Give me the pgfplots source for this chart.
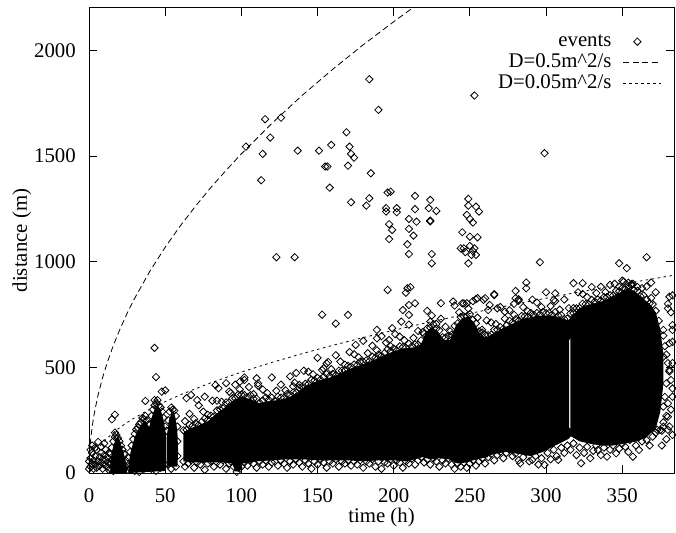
\documentclass[border=0pt]{standalone}
\usepackage{fontspec}
\setmainfont{Liberation Serif}
\usepackage{pgfplots}
\pgfplotsset{compat=1.18}

\newcommand{\lbl}{\fontsize{20.8}{24}\selectfont}
\pgfplotsset{
    longline legend/.style={legend image code/.code={\draw[##1] (0pt,0pt) -- (38pt,0pt);}},
    markonly legend/.style={legend image code/.code={\draw[##1] plot coordinates {(14pt,0pt)};}},
}

\begin{document}
\begin{tikzpicture}
\useasboundingbox (-89pt,-59pt) rectangle (587pt,473pt);
\begin{axis}[
    scale only axis,
    width=585pt, height=465pt,
    xmin=0, xmax=384, ymin=0, ymax=2200,
    xtick={0,50,...,350}, ytick={0,500,...,2000},
    scaled ticks=false,
    tick align=inside, major tick length=8pt,
    axis line style={line width=1pt},
    every tick/.style={black, line width=0.8pt},
    tick label style={font=\lbl, /pgf/number format/assume math mode=true, /pgf/number format/1000 sep={}},
    xticklabel style={anchor=base, inner sep=0pt, yshift=-29.7pt},
    yticklabel style={anchor=east, inner sep=0pt, xshift=-13pt},
    label style={font=\lbl},
    xlabel={time (h)}, ylabel={distance (m)},
    xlabel style={at={(axis description cs:0.5,-0.1075)}, anchor=base, inner sep=0pt},
    ylabel style={at={(axis description cs:-0.106,0.5)}, anchor=base, inner sep=0pt},
    legend style={draw=none, fill=none, at={(rel axis cs:1,1)}, anchor=north east,
        xshift=-12pt, yshift=-23pt, inner sep=0pt, row sep=0pt, column sep=11pt,
        font=\lbl, nodes={inner sep=0.5pt, text height=14.5pt, text depth=5.5pt}},
    legend cell align=right, legend plot pos=right,
    longline legend,
]
% dense cores of the event cloud
\addplot[fill=black, draw=none, forget plot] coordinates {
    (14,0) (14,50) (15,100) (16.5,140) (18,165) (19.5,165) (21,135) (22.5,100) (24,60) (24.8,20) (24.8,0)};
\addplot[fill=black, draw=none, forget plot] coordinates {
    (26,0) (26,40) (27,90) (28.5,130) (30,170) (32,200) (34,225) (36,240) (38,235) (39.5,215) (41,260)
    (43,300) (45,320) (47,300) (49,250) (50.5,180) (50.5,10)};
\addplot[fill=black, draw=none, forget plot] coordinates {
    (51,30) (51,170) (52.5,250) (54.5,290) (56.5,270) (58,200) (58.5,100) (58,30)};
\addplot[fill=black, draw=none, forget plot] coordinates {
    (62,190) (66,210) (72,225) (78,245) (84,280) (90,315) (95,345) (100,360) (106,350) (112,330) (118,340)
    (124,345) (130,355) (136,375) (142,410) (148,430) (154,445) (160,455) (166,475) (172,495) (178,510)
    (184,525) (190,545) (196,565) (202,580) (208,590) (214,595) (218,610) (221,665) (225,690) (229,670)
    (233,630) (237,630) (241,700) (245,730) (249,740) (253,710) (257,650) (262,640)
    (262,75) (254,65) (248,50) (242,45) (236,65) (230,70) (224,65) (219,75) (214,65) (208,55) (200,60)
    (190,60) (180,55) (170,60) (160,60) (150,60) (140,65) (130,65) (120,60) (110,55) (101,45) (99,8)
    (96,8) (94,45) (88,50) (80,50) (70,50) (62,55)};
\addplot[fill=black, draw=none, forget plot] coordinates {
    (261,642) (268,670) (276,700) (285,730) (295,745) (305,745) (314.5,722) (316.5,735) (316.5,640)
    (315.2,630) (315.2,215) (316.5,205) (316.5,175) (314.5,160) (306,130) (298,100) (290,80) (282,90)
    (274,100) (266,90) (261,78)};
\addplot[fill=black, draw=none, forget plot] coordinates {
    (316,735) (322,780) (330,800) (338,815) (345,840) (350,860) (354,875) (358,860) (363,830) (368,800)
    (372,760) (375,680) (377,560) (377,420) (375,290) (372,210) (366,170) (360,150) (352,140) (344,130)
    (336,130) (328,140) (322,150) (316,175)};

% events
\addplot[only marks, mark=square, mark size=2.6pt, mark options={rotate=45, line width=0.8pt},
    markonly legend] coordinates {
    % far outliers
    (115.6,1674) (126,1681) (119,1587) (103,1544) (114,1510) (137,1525) (151,1525) (159,1552) (155,1450)
    (156.5,1450) (158,1350) (113,1385) (123,1021) (135,1021) (184,1863) (190,1718) (253,1786) (169,1612)
    (171,1544) (172,1510) (174,1492) (170,1454) (185,1418) (299,1513) (172,1281) (182,1265) (184,1300)
    (196,1327) (198,1331) (195,1253) (195,1237) (202,1253) (202,1234) (214,1311) (214,1248) (224,1292)
    (223,1253) (228,1240) (197,1177) (199,1150) (197,1107) (210,1202) (215,1189) (210,1155) (213,1123)
    (224,1194) (224,1190) (209,1082) (210,1036) (225,1036) (225,992) (249,1297) (249,1265) (248,1221)
    (254,1260) (256,1237) (250,1202) (252,1185) (245,1139) (250,1118) (255,1115) (244,1063) (246,1063)
    (250,1074) (253,1063) (251,1032) (254,1032) (249,992) (252,1050) (247,1045) (296,997) (348,992)
    (366,1021) (353,969) (350,910) (356,894) (369,901) (318,898) (324,898) (287,901) (287,874) (280,861)
    (280,827) (266,846) (260,827) (254,822) (248,803) (273,763) (268,779) (306,850) (305,819) (282,822)
    (279,800) (153,749) (162,707) (170,748) (136,473) (134,410) (157,525) (175,606) (189,677) (189,637)
    (199,685) (197,629) (196,866) (209,874) (211,879) (208,853) (206,771) (210,795) (214,803) (210,748)
    (205,716) (224,716) (231,803) (239,811) (245,803) (255,827) (259,819) (266,842) (263,795) (262,771)
    (64,354) (67,369) (71,345) (76,361) (83,416) (85,401) (92,385) (99,432) (102,440) (110,448) (111,424)
    (154,495)
    % early bursts
    (0,55) (1,30) (1,70) (2,45) (2,95) (3,20) (3,60) (4,80) (4,40) (5,110) (5,25) (6,147) (6,55) (7,75)
    (7,35) (8,95) (8,50) (9,20) (9,65) (10,85) (10,40) (11,110) (11,60) (12,30) (12,75) (13,50) (13,95)
    (14,20) (0,20) (1,110) (2,130) (4,120) (8,125) (10,140)
    (14,40) (14,90) (15,120) (15,60) (16,150) (17,191) (17,170) (18,180) (19,165) (20,150) (21,130)
    (22,110) (23,90) (24,60) (24,30) (25,15) (15,254) (17,276) (13,15) (16,10)
    (26,30) (26,70) (27,100) (28,130) (29,160) (30,185) (31,205) (32,215) (33,230) (34,240) (35,260)
    (36,255) (37,270) (38,250) (39,230) (27,20) (33,5) (30,10) (36,20)
    (39,180) (40,230) (41,270) (42,300) (43,320) (44,330) (45,345) (46,320) (47,310) (48,290) (49,260)
    (50,220) (41,20) (44,10) (47,25) (50,40) (37,341) (43,592) (44,454) (50,391) (47.7,385) (43,345)
    (51,200) (52,250) (53,290) (54,310) (55,300) (56,295) (57,270) (58,220) (58,150) (58,80) (57,30)
    (54,20) (52,40)
    % upper edge of the main cloud
    (62,202) (64,204) (66,228) (68,223) (70,235) (72,227) (74,242) (76,258) (78,251) (80,271) (82,268)
    (84,296) (86,301) (88,306) (90,334) (92,334) (94,352) (96,353) (98,371) (100,371) (102,369) (104,357)
    (106,368) (108,351) (110,352) (112,332) (114,343) (116,357) (118,346) (120,356) (122,343) (124,361)
    (126,357) (128,355) (130,374) (132,369) (134,381) (136,380) (138,404) (140,409) (142,422) (144,421)
    (146,441) (148,438) (150,450) (152,442) (154,455) (156,468) (158,458) (160,469) (162,462) (164,484)
    (166,484) (168,485) (170,507) (172,502) (174,513) (176,510) (178,527) (180,526) (182,532) (184,529)
    (186,550) (188,546) (190,560) (192,554) (194,568) (196,585) (198,576) (200,589) (202,580) (204,599)
    (206,596) (208,593) (210,611) (212,600) (214,608) (216,607) (218,627) (220,658) (222,684) (224,688)
    (226,703) (228,683) (230,675) (232,642) (234,640) (236,650) (238,654) (240,696) (242,708) (244,738)
    (246,741) (248,741) (250,752) (252,725) (254,708) (256,670) (258,665) (260,655) (262,652) (264,654)
    (266,678) (268,678) (270,690) (272,683) (274,698) (276,720) (278,713) (280,727) (282,720) (284,743)
    (286,741) (288,738) (290,757) (292,748) (294,757) (296,750) (298,762) (300,756) (302,757) (304,749)
    (306,761) (308,745) (310,747) (312,728) (314,731) (316,755) (318,756) (320,779) (322,780) (324,801)
    (326,799) (328,798) (330,819) (332,811) (334,821) (336,816) (338,832) (340,833) (342,841) (344,840)
    (346,862) (348,860) (350,875) (352,870) (354,885) (356,888) (358,866) (360,862) (362,836) (364,840)
    (366,821) (368,803) (370,799) (372,767) (374,720)
    (63,245) (66,280) (69,256) (72,320) (75,290) (78,275) (81,342) (84,342) (87,337) (90,425) (93,378)
    (96,418) (99,395) (102,452) (105,407) (108,373) (111,413) (114,395) (117,378) (120,452) (123,389)
    (126,418) (129,391) (132,457) (135,427) (138,417) (141,484) (144,479) (147,467) (150,545) (153,487)
    (156,518) (159,491) (162,557) (165,527) (168,512) (171,572) (174,562) (177,547) (180,625) (183,567)
    (186,602) (189,580) (192,647) (195,617) (198,600) (201,657) (204,645) (207,628) (210,702) (213,639)
    (216,672) (219,666) (222,767) (225,745) (228,705) (231,730) (234,692) (237,670) (240,792) (243,760)
    (246,802) (249,778) (252,813) (255,735) (258,678) (261,722) (264,712) (267,705) (270,785) (273,730)
    (276,770) (279,748) (282,815) (285,785) (288,765) (291,820) (294,806) (297,785) (300,855) (303,790)
    (306,813) (309,773) (312,821) (315,780) (318,780) (321,855) (324,847) (327,832) (330,880) (333,851)
    (336,881) (339,856) (342,890) (345,895) (348,882) (351,905) (354,900) (357,895) (360,880) (363,875)
    (366,882) (369,828) (372,855)
    % right edge
    (377,650) (378,600) (379,560) (380,520) (381,480) (382,440) (383,400) (378,360) (380,330) (382,300)
    (379,270) (377,240) (381,220) (376,200) (383,180) (383,520) (383,620) (383,700) (382,760) (380,800)
    (383,840) (381,834) (380,779) (383,677) (377,677) (381,614) (377,550) (381,487) (379,424) (383,361)
    (377,314) (380,266) (375,204) (376,130) (379,160)
    % lower edge of the main cloud
    (62,55) (63,30) (65,45) (67,60) (69,25) (71,50) (73,40) (75,65) (76,15) (78,45) (80,55) (82,30)
    (84,50) (86,40) (88,60) (90,20) (92,45) (93,55) (95,30) (97,5) (98,25) (100,30) (102,50) (104,35)
    (106,60) (108,45) (110,25) (112,55) (114,40) (116,60) (118,30) (120,50) (122,54) (124,35) (126,60)
    (128,45) (130,25) (132,55) (134,40) (136,65) (138,50) (140,30) (142,60) (144,45) (146,20) (148,55)
    (150,40) (152,65) (154,50) (156,25) (158,55) (160,45) (162,65) (164,30) (166,55) (168,45) (170,60)
    (172,35) (174,55) (176,40) (178,60) (180,25) (182,55) (184,45) (186,65) (188,30) (190,55) (192,20)
    (194,50) (196,45) (198,65) (200,35) (202,60) (204,50) (206,25) (208,55) (210,45) (212,70) (214,40)
    (216,60) (218,75) (219,110) (220,50) (222,65) (224,40) (226,70) (228,55) (230,30) (232,60) (234,45)
    (236,70) (238,40) (240,20) (242,45) (244,30) (246,50) (248,25) (250,45) (252,60) (254,35) (256,55)
    (258,70) (260,45) (262,75) (264,90) (266,60) (268,85) (270,100) (272,70) (274,95) (276,110) (278,80)
    (280,93) (282,60) (283,46) (285,75) (287,100) (289,55) (291,62) (293,80) (295,40) (297,70) (299,38)
    (301,95) (303,65) (305,110) (307,80) (308,62) (310,120) (312,95) (314,130) (316,110) (318,140)
    (320,85) (322,120) (323,46) (325,95) (327,124) (329,70) (331,105) (333,130) (334,109) (336,85)
    (338,120) (340,77) (342,110) (344,130) (346,93) (348,115) (350,140) (352,124) (354,100) (355,156)
    (357,77) (359,130) (361,109) (363,150) (366,156) (368,130) (370,172) (372,190) (373,204) (377,219)
    (380,204)};

\addplot[line width=0.8pt, dash pattern=on 6pt off 3.5pt] coordinates {
    (0,0) (0.25,75.5) (0.5,107) (1,151) (2,214) (3,262) (4,302) (6,370) (9,453) (12,523) (16,604)
    (20,675) (25,755) (30,827) (40,955) (50,1068) (60,1170) (70,1263) (80,1351) (90,1432) (100,1510)
    (120,1654) (140,1787) (160,1910) (180,2026) (200,2135) (220,2240)};
\addplot[line width=0.8pt, dash pattern=on 2.5pt off 3.5pt] coordinates {
    (0,0) (0.25,23.9) (0.5,33.8) (1,47.8) (2,67.5) (4,95.5) (6,117) (9,143) (12,165) (16,191)
    (20,213.5) (25,239) (30,261.5) (40,302) (50,337.6) (60,370) (80,427) (100,477.5) (120,523)
    (140,565) (160,604) (180,640.6) (200,675.3) (220,708.2) (240,739.7) (260,770) (280,799) (300,827)
    (320,854) (340,880.5) (360,906) (384,935.7)};

\legend{events, D=0.5m\textasciicircum 2/s, D=0.05m\textasciicircum 2/s}
\end{axis}
\end{tikzpicture}
\end{document}
